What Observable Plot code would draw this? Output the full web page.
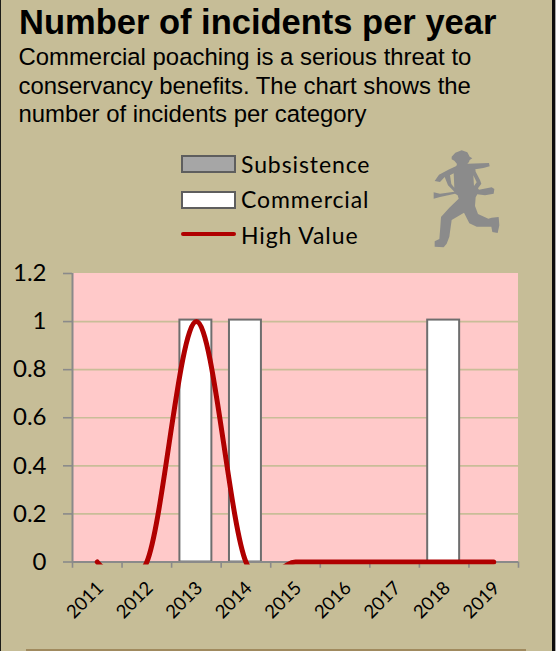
<!DOCTYPE html>
<html>
<head>
<meta charset="utf-8">
<script src="https://cdn.jsdelivr.net/npm/d3@7"></script>
<script src="https://cdn.jsdelivr.net/npm/@observablehq/plot@0.6"></script>
<style>
html,body{margin:0;padding:0;background:#c6bd97;}
#page{position:relative;width:556px;height:651px;overflow:hidden;background:#c6bd97;box-sizing:border-box;}
#edgeL{position:absolute;left:0;top:0;width:1px;height:651px;background:#1c1c18;}
#edgeR{position:absolute;left:552px;top:0;width:3px;height:651px;background:#0d0d0d;}
#edgeG{position:absolute;left:555px;top:0;width:1px;height:651px;background:#a8a8a8;}
#edgeB{position:absolute;left:26px;top:649px;width:500px;height:2px;background:#a08a5e;}
h1{position:absolute;left:19px;top:3px;margin:0;font:bold 34.5px/38px "Liberation Sans",Arial,sans-serif;color:#000;white-space:nowrap;}
#sub{position:absolute;left:18.5px;top:43px;margin:0;font:23.9px/28.6px "Liberation Sans",Arial,sans-serif;color:#000;white-space:nowrap;}
.lg{position:absolute;left:181px;height:18px;width:55px;box-sizing:border-box;border:2px solid #5e5e5e;}
.lt{position:absolute;left:241px;font:23px/30px Lato,sans-serif;color:#000;white-space:nowrap;letter-spacing:.9px;}
#chart{position:absolute;left:0;top:0;}
#chart svg{background:transparent;display:block;}
#runner{position:absolute;left:420px;top:140px;}
</style>
</head>
<body>
<div id="page">
<div id="chart"></div>
<div id="edgeL"></div><div id="edgeR"></div><div id="edgeG"></div><div id="edgeB"></div>
<h1>Number of incidents per year</h1>
<p id="sub">Commercial poaching is a serious threat to<br>conservancy benefits. The chart shows the<br>number of incidents per category</p>
<div class="lg" style="top:155px;background:#a6a6a6"></div>
<div class="lt" style="top:149px">Subsistence</div>
<div class="lg" style="top:191px;background:#fff"></div>
<div class="lt" style="top:184px">Commercial</div>
<div style="position:absolute;left:181px;top:232px;width:55px;height:4px;border-radius:2px;background:#b00000"></div>
<div class="lt" style="top:220px">High Value</div>
<svg id="runner" width="90" height="115" viewBox="0 0 270 345" aria-hidden="true">
<path fill="#8b8b8b" fill-rule="evenodd" d="M95 50 L106 38 L125 31 L142 37 L149 50 L157 55 L149 60 L147 66 L142 71 L207 69 L209 79 L190 84 L166 88 L167 95 L180 120 L184 131 L174 145 L177 149 L215 142 L223 147 L221 161 L195 166 L172 163 L167 172 L165 198 L174 222 L205 236 L215 233 L236 231 L238 256 L233 279 L217 276 L214 260 L170 260 L148 250 L132 218 L95 240 L88 290 L80 311 L71 322 L44 320 L44 304 L58 297 L61 260 L63 231 L88 203 L116 176 L113 166 L105 161 L60 171 L41 176 L41 157 L60 161 L103 155 L84 136 L74 111 L60 126 L44 123 L57 104 L85 89 L109 78 L111 72 L103 62 L95 58 Z M90 106 L101 100 L103 143 L94 132 Z M160 106 L170 127 L162 138 Z"/>
</svg>
</div>
<script>
const years = ["2011","2012","2013","2014","2015","2016","2017","2018","2019"];
const subsistence = [0,0,0,0,0,0,0,0,0];
const commercial = [0,0,1,1,0,0,0,1,0];
const highValue = [0,0,1,0,0,0,0,0,0];
const yTicks = [0,0.2,0.4,0.6,0.8,1,1.2];
const rows = years.map((year,i)=>({year,subsistence:subsistence[i],commercial:commercial[i],highValue:highValue[i]}));
const step = (518-72)/years.length;
const grey = "#8a8a8a";
const barStyle = {stroke:"#6e6e6e",strokeWidth:2,insetLeft:8.8,insetRight:8.8,insetTop:-1.5,dx:-0.5};
const chart = Plot.plot({
  width:556, height:651,
  marginLeft:72, marginRight:38, marginTop:273, marginBottom:86.5,
  style:{background:"transparent",overflow:"visible"},
  x:{type:"band",domain:years,padding:0,align:0.5,round:false,axis:null},
  y:{domain:[0,1.2],range:[561.5,273],axis:null},
  marks:[
    Plot.rectY([0],{y1:0,y2:1.2,fill:"#ffc9c9"}),
    Plot.ruleY(yTicks.filter(d=>d>0&&d<1.2),{y:d=>d,stroke:"#c9bd98",strokeWidth:1.6}),
    Plot.barY(rows,{x:"year",y:"subsistence",fill:"#a6a6a6",...barStyle,insetTop:0,strokeWidth:1}),
    Plot.barY(rows.filter(d=>d.commercial>0),{x:"year",y:"commercial",fill:"#fff",...barStyle}),
    // axes
    Plot.ruleY([0],{stroke:grey,strokeWidth:2}),
    Plot.ruleX([0],{x:()=>years[0],y1:0,y2:1.2,stroke:grey,strokeWidth:2,dx:-step/2}),
    Plot.ruleX(years,{x:d=>d,y1:0,y2:-0.026,stroke:grey,strokeWidth:1.6,dx:-step/2}),
    Plot.ruleX([years[years.length-1]],{x:d=>d,y1:0,y2:-0.026,stroke:grey,strokeWidth:1.6,dx:step/2}),
    Plot.tickY(yTicks,{y:d=>d,x:()=>years[0],stroke:grey,strokeWidth:1.6,insetRight:step-9,dx:-9}),
    Plot.text(yTicks,{y:d=>d,frameAnchor:"left",dx:-26,textAnchor:"end",text:d=>String(d),fontFamily:"Lato, sans-serif",fontSize:24,fill:"#000"}),
    Plot.text(years,{x:d=>d,y:()=>0,text:d=>d,rotate:-45,textAnchor:"end",dx:3,dy:23,fontFamily:"Lato, sans-serif",fontSize:18.5,fill:"#000"}),
    // line, clipped at the plot frame
    Plot.line(rows,{x:"year",y:"highValue",stroke:"#b00000",strokeWidth:5,curve:"cardinal",tension:0,clip:true})
  ]
});
document.getElementById("chart").append(chart);
</script>
</body>
</html>
